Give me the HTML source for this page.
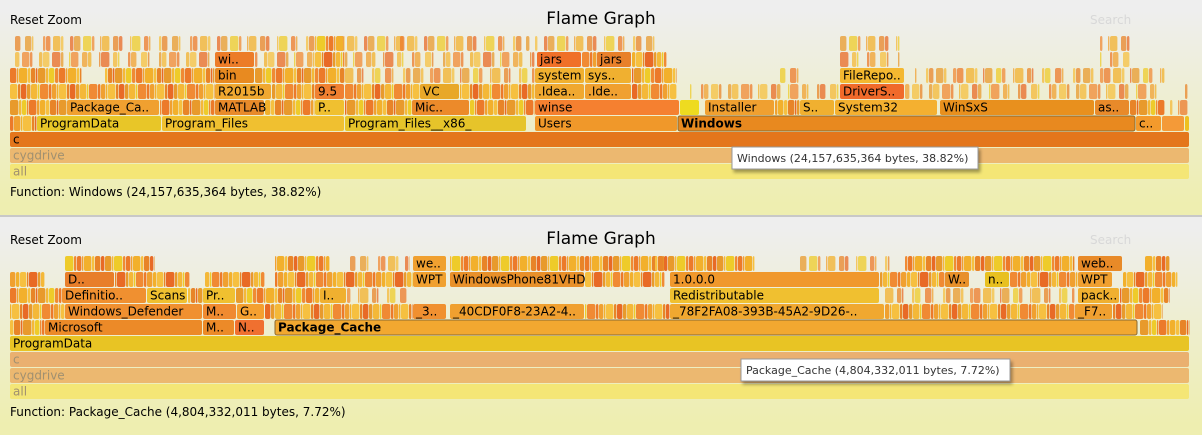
<!DOCTYPE html>
<html><head><meta charset="utf-8"><style>
html,body{margin:0;padding:0;width:1202px;height:435px;overflow:hidden;background:#eee;}
svg{display:block;font-family:"DejaVu Sans","Liberation Sans",sans-serif;}
text{font-size:12px;}
</style></head><body>
<svg id="fg" width="1202" height="435">
<defs>
<linearGradient id="bg" x1="0" y1="0" x2="0" y2="1"><stop offset="5%" stop-color="#eeeeee"/><stop offset="95%" stop-color="#eeeeb0"/></linearGradient>
<filter id="sh" x="-5%" y="-20%" width="115%" height="160%"><feDropShadow dx="2" dy="3" stdDeviation="1.5" flood-color="#000" flood-opacity="0.35"/></filter>
</defs>
<rect x="0" y="0" width="1202" height="215" fill="url(#bg)"/>
<rect x="0" y="215" width="1202" height="2" fill="#c8c8c8"/>
<rect x="0" y="217" width="1202" height="218" fill="url(#bg)"/>
<g id="top">
<text x="10" y="24">Reset Zoom</text>
<text x="601" y="24" text-anchor="middle" style="font-size:17px">Flame Graph</text>
<text x="1090" y="24" fill="#d8d8d8">Search</text>
<text x="10" y="196">Function: Windows (24,157,635,364 bytes, 38.82%)</text>
</g>
<g id="bot">
<text x="10" y="244">Reset Zoom</text>
<text x="601" y="244" text-anchor="middle" style="font-size:17px">Flame Graph</text>
<text x="1090" y="244" fill="#d8d8d8">Search</text>
<text x="10" y="416">Function: Package_Cache (4,804,332,011 bytes, 7.72%)</text>
</g>
</svg>
<script>
const total = 1180;
// [start, width, level, label, color]
const topFrames = [
 [0,1180,0,"all","#f4e676"],[0,1180,1,"cygdrive","#ecb870"],[0,1180,2,"c","#e4761c"],
 [27,125,3,"ProgramData","#e8c628"],[152,183,3,"Program_Files","#f0c030"],[335,182,3,"Program_Files__x86_","#e6c42a"],
 [525,143,3,"Users","#f0982a"],[668,458,3,"Windows","#e8891f"],[1126,26,3,"c..","#f39a2c"],[1152,23,3,"","#f49a38"],[1175,5,3,"","#eec020"],
 [57,93,4,"Package_Ca..","#f0a030"],[205,50,4,"MATLAB","#e88a2a"],[305,30,4,"P..","#f0c030"],[402,58,4,"Mic..","#ec8a2a"],
 [525,145,4,"winse","#f58030"],[670,20,4,"","#eedb20"],[695,70,4,"Installer","#f0a030"],[790,35,4,"S..","#f0b030"],
 [825,103,4,"System32","#f4b030"],[930,155,4,"WinSxS","#e8901e"],[1085,35,4,"as..","#e88a2a"],
 [205,57,5,"R2015b","#f0a830"],[305,30,5,"9.5","#f08030"],[410,40,5,"VC","#e8a828"],[525,50,5,".Idea..","#f0a830"],
 [575,47,5,".Ide..","#f0a030"],[830,65,5,"DriverS..","#f06a2a"],
 [205,40,6,"bin","#e88a20"],[525,50,6,"system","#f0b030"],[575,47,6,"sys..","#f0b030"],[830,65,6,"FileRepo..","#f4b830"],
 [205,40,7,"wi..","#ec7c28"],[527,45,7,"jars","#f07028"],[587,35,7,"jars","#e8802a"]
];
// [start, width, level, density(1 dense,0 sparse)]
const topClusters = [
 [0,27,3,1],[0,57,4,1],[150,55,4,1],[255,50,4,1],[335,67,4,1],[460,65,4,1],[765,25,4,1],[1120,35,4,1],[1160,20,4,0],
 [0,205,5,1],[262,43,5,1],[335,75,5,1],[450,75,5,1],[622,45,5,1],[680,150,5,0],[895,260,5,0],[1175,5,5,0],
 [0,72,6,1],[95,110,6,1],[245,60,6,1],[305,30,6,1],[335,190,6,0],[622,45,6,1],[770,20,6,0],[905,250,6,0],
 [5,195,7,0],[245,60,7,0],[305,30,7,1],[335,190,7,0],[572,15,7,1],[622,35,7,1],[830,60,7,0],[1090,30,7,0],
 [5,390,8,0],[305,30,8,1],[390,130,8,0],[525,125,8,0],[830,60,8,0],[1090,30,8,0]
];
const botFrames = [
 [0,1180,0,"all","#f4e676"],[0,1180,1,"cygdrive","#ecb870"],[0,1180,2,"c","#eab070"],[0,1180,3,"ProgramData","#e8c424"],
 [35,158,4,"Microsoft","#ec8a28"],[193,32,4,"M..","#ec8a28"],[225,30,4,"N..","#f07030"],[265,863,4,"Package_Cache","#f2a830"],
 [55,138,5,"Windows_Defender","#f09030"],[193,34,5,"M..","#f08a30"],[227,28,5,"G..","#f4a030"],[403,34,5,"_3..","#f09030"],
 [440,135,5,"_40CDF0F8-23A2-4..","#f0a030"],[660,215,5,"_78F2FA08-393B-45A2-9D26-..","#f0a830"],[1065,38,5,"_F7..","#f0a030"],
 [52,85,6,"Definitio..","#f09030"],[137,41,6,"Scans","#f0c030"],[193,33,6,"Pr..","#f0c030"],[310,27,6,"I..","#f0b030"],
 [660,210,6,"Redistributable","#f0c030"],[1068,42,6,"pack..","#f0b030"],
 [55,50,7,"D..","#e87e2a"],[403,34,7,"WPT","#f0a030"],[440,135,7,"WindowsPhone81VHD","#e8902a"],[660,210,7,"1.0.0.0","#f0982c"],
 [935,25,7,"W..","#e8902a"],[975,25,7,"n..","#e8c020"],[1068,35,7,"WPT","#f0a030"],
 [403,34,8,"we..","#f0a030"],[1068,45,8,"web..","#e88a28"]
];
const botClusters = [
 [0,35,4,1],[1130,50,4,1],[0,55,5,1],[255,148,5,1],[575,85,5,1],[875,190,5,1],[1103,50,5,1],
 [0,52,6,1],[178,15,6,1],[226,84,6,1],[337,60,6,0],[875,190,6,0],[1110,50,6,1],
 [0,35,7,1],[105,75,7,1],[195,60,7,1],[265,138,7,1],[575,80,7,1],[870,65,7,1],[1000,68,7,1],[1113,55,7,1],
 [55,90,8,1],[265,55,8,1],[340,60,8,0],[440,135,8,1],[575,80,8,1],[645,100,8,1],[790,90,8,0],[895,170,8,1],[1135,25,8,1]
];
const palette = ["#f0a030","#e88428","#f4b838","#ec7a2a","#f6c040","#e89a2c","#f08a34","#f2b02c","#e86a26","#eecb2a"];
const sliceW = [4,7,2,9,3,5,2,8,3,6];
const NS = "http://www.w3.org/2000/svg";
function xs(v){return 10 + v*(1180/total);}
function ys(level, base){return base - 16*level;}
function rect(g,x,y,w,fill,stroke){
  const r=document.createElementNS(NS,"rect");
  r.setAttribute("x",x);r.setAttribute("y",y);r.setAttribute("width",Math.max(w,0.5));r.setAttribute("height",15);
  r.setAttribute("rx",2);r.setAttribute("fill",fill);
  if(stroke){r.setAttribute("stroke",stroke);r.setAttribute("stroke-width",1);}
  g.appendChild(r);return r;
}
function draw(gid, frames, clusters, base, fadedLevels, hl){
  const g=document.getElementById(gid);
  clusters.forEach((c,ci)=>{
    let x=xs(c[0]); const end=xs(c[0]+c[1]); let i=ci*3;
    while(x<end){
      const w=Math.min(sliceW[i%sliceW.length],end-x);
      if(c[3]===1 || i%3!==1){
        const r=rect(g,x,ys(c[2],base),w-0.6,palette[(i*7+c[2])%palette.length]);
        if(c[3]===0) r.setAttribute("opacity","0.75");
        
        
      }
      x+=w; i++;
    }
  });
  frames.forEach(f=>{
    const x=xs(f[0]), w=xs(f[0]+f[1])-x-1, y=ys(f[2],base);
    const r=rect(g,x,y,w,f[4],f[3]===hl?"#8a6a30":null);
    
    
    if(f[3]){
      const t=document.createElementNS(NS,"text");
      t.setAttribute("x",x+3);t.setAttribute("y",y+11.5);
      t.textContent=f[3];
      if(fadedLevels.includes(f[2])) t.setAttribute("fill","#a09070");
      if(f[3]===hl) t.setAttribute("font-weight","bold");
      
      
      g.appendChild(t);
    }
  });
}
function tip(gid,x,y,w,txt){
  const g=document.getElementById(gid);
  const r=document.createElementNS(NS,"rect");
  r.setAttribute("x",x);r.setAttribute("y",y);r.setAttribute("width",w);r.setAttribute("height",22);
  r.setAttribute("fill","#fff");r.setAttribute("stroke","#999");r.setAttribute("filter","url(#sh)");
  
  
  g.appendChild(r);
  const t=document.createElementNS(NS,"text");
  t.setAttribute("x",x+5);t.setAttribute("y",y+15);t.setAttribute("fill","#333");
  t.setAttribute("style","font-size:11px");t.textContent=txt;
  
  
  g.appendChild(t);
}
draw("top",topFrames,topClusters,164,[0,1],"Windows");
draw("bot",botFrames,botClusters,384,[0,1,2],"Package_Cache");
tip("top",732,147,246,"Windows (24,157,635,364 bytes, 38.82%)");
tip("bot",741,359,269,"Package_Cache (4,804,332,011 bytes, 7.72%)");
</script>
</body></html>
